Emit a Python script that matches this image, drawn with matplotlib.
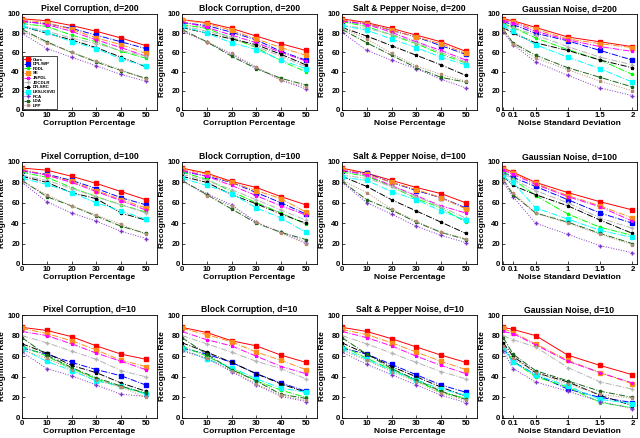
import numpy as np
from matplotlib import pyplot as plt

plt.rcParams['font.family'] = ['Liberation Sans', 'DejaVu Sans']
plt.rcParams['font.weight'] = 'bold'

methods = ['Ours', 'DPL/WP', 'FDDL', 'SE', 'JNPDL', 'JDCDLR', 'DR-SRC',
           'LRSI-KSVD', 'PCA', 'LDA', 'LPP']
colors = ['#ff0000', '#0000ff', '#00ff00', '#ff8c1a', '#ff00ff', '#b4b4b4',
          '#000000', '#00ffff', '#7f33cc', '#1a6619', '#b38c73']
markers = ['s', 's', '*', 's', '*', '+', '*', 's', '+', '*', '*']
styles = ['-', '-.', '-.', '-.', '-.', '-.', '-.', '-.', ':', '-.', ':']

pct_x = [0, 10, 20, 30, 40, 50]
# where the noise levels sit along the axis in the original figure
std_pos = [0, 0.15, 0.5, 1, 1.5, 2]
std_labels = ['0', '0.1', '0.5', '1', '1.5', '2']

# rows follow the order of `methods`
pixel_200 = [[95, 93, 88, 82, 75, 67], [92, 90, 85, 78, 71, 64], [90, 87, 78, 71, 61, 54],
             [94, 91, 84, 75, 68, 59], [93, 89, 82, 73, 65, 56], [88, 82, 75, 69, 62, 56],
             [87, 80, 73, 65, 55, 45], [87, 81, 71, 64, 53, 46], [80, 64, 55, 46, 37, 30],
             [84, 71, 60, 50, 41, 33], [82, 70, 60, 51, 42, 32]]
block_200 = [[94, 91, 85, 77, 69, 62], [91, 88, 81, 73, 61, 52], [89, 85, 75, 65, 51, 40],
             [94, 90, 83, 74, 65, 57], [92, 86, 78, 70, 60, 51], [88, 82, 76, 66, 56, 45],
             [86, 80, 74, 68, 58, 47], [87, 80, 70, 63, 52, 43], [82, 71, 58, 44, 31, 22],
             [84, 71, 56, 43, 33, 26], [83, 71, 59, 45, 31, 24]]
salt_200 = [[95, 91, 85, 78, 71, 61], [92, 90, 83, 76, 67, 58], [92, 87, 78, 69, 58, 49],
            [94, 90, 83, 76, 69, 59], [93, 89, 81, 71, 62, 52], [88, 85, 79, 70, 60, 50],
            [86, 77, 67, 57, 47, 36], [88, 83, 74, 65, 55, 47], [81, 62, 52, 43, 32, 23],
            [84, 70, 57, 44, 34, 29], [85, 74, 59, 46, 37, 30]]
gauss_200 = [[95, 93, 86, 76, 71, 66], [92, 89, 80, 72, 62, 52], [90, 86, 75, 63, 52, 37],
             [94, 92, 84, 74, 69, 65], [93, 91, 82, 73, 66, 61], [88, 86, 78, 66, 55, 47],
             [86, 80, 70, 62, 52, 44], [88, 82, 68, 55, 43, 29], [81, 68, 50, 36, 23, 15],
             [84, 70, 57, 44, 34, 24], [83, 69, 54, 42, 30, 20]]

pixel_100 = [[94, 92, 86, 79, 71, 63], [91, 88, 82, 74, 65, 58], [90, 85, 75, 66, 58, 51],
             [93, 87, 81, 72, 63, 55], [92, 87, 80, 71, 62, 53], [87, 82, 74, 66, 58, 50],
             [86, 80, 70, 64, 50, 43], [84, 78, 70, 60, 52, 44], [80, 61, 50, 42, 32, 25],
             [82, 66, 57, 47, 37, 30], [81, 68, 57, 48, 39, 29]]
block_100 = [[94, 89, 81, 75, 66, 58], [91, 86, 80, 70, 60, 49], [90, 83, 71, 60, 50, 39],
             [93, 88, 80, 72, 64, 51], [92, 86, 77, 67, 57, 48], [88, 82, 73, 63, 53, 43],
             [86, 80, 68, 59, 49, 40], [84, 77, 69, 55, 45, 31], [81, 69, 58, 41, 31, 21],
             [82, 68, 54, 40, 31, 24], [82, 67, 57, 41, 30, 20]]
salt_100 = [[94, 89, 82, 75, 69, 60], [91, 89, 80, 72, 65, 55], [90, 86, 76, 64, 55, 41],
            [93, 88, 80, 73, 65, 54], [92, 87, 77, 67, 57, 50], [87, 84, 76, 66, 56, 45],
            [86, 76, 63, 52, 41, 30], [85, 82, 71, 63, 52, 43], [80, 60, 49, 37, 28, 21],
            [81, 63, 53, 41, 31, 24], [82, 70, 54, 42, 31, 25]]
gauss_100 = [[94, 90, 80, 70, 61, 53], [90, 85, 76, 63, 50, 40], [91, 83, 67, 49, 36, 28],
             [93, 89, 79, 67, 57, 45], [92, 88, 78, 66, 56, 42], [88, 83, 72, 60, 45, 35],
             [86, 77, 68, 57, 43, 30], [85, 80, 55, 44, 33, 26], [80, 66, 40, 29, 18, 11],
             [83, 68, 50, 41, 30, 20], [82, 70, 50, 40, 29, 19]]

pixel_10 = [[88, 85, 79, 70, 62, 57], [68, 62, 54, 47, 41, 32], [70, 60, 48, 38, 30, 24],
            [87, 82, 75, 66, 56, 50], [84, 80, 72, 63, 55, 47], [80, 73, 65, 57, 46, 40],
            [72, 63, 51, 44, 34, 26], [67, 55, 46, 36, 31, 23], [64, 48, 41, 32, 23, 21],
            [78, 61, 49, 39, 31, 24], [66, 58, 47, 37, 30, 20]]
block_10 = [[88, 83, 75, 70, 61, 54], [68, 62, 54, 43, 34, 26], [70, 60, 48, 36, 27, 20],
            [87, 81, 74, 64, 56, 47], [84, 76, 70, 60, 50, 43], [80, 72, 64, 55, 48, 38],
            [73, 64, 54, 43, 33, 25], [67, 57, 49, 38, 29, 25], [65, 58, 45, 32, 21, 16],
            [78, 62, 47, 36, 23, 19], [66, 58, 46, 33, 22, 17]]
salt_10 = [[88, 84, 77, 69, 61, 54], [68, 62, 52, 42, 32, 25], [70, 58, 47, 36, 25, 19],
           [86, 81, 73, 64, 55, 47], [84, 78, 70, 60, 51, 43], [80, 72, 63, 54, 45, 38],
           [73, 62, 50, 40, 30, 21], [67, 57, 46, 37, 28, 22], [64, 52, 42, 32, 22, 15],
           [78, 62, 48, 37, 26, 18], [66, 56, 45, 35, 24, 17]]
gauss_10 = [[88, 86, 80, 61, 51, 42], [68, 55, 42, 28, 20, 15], [70, 55, 40, 30, 15, 10],
            [87, 83, 72, 56, 44, 33], [84, 82, 71, 55, 44, 34], [80, 76, 69, 49, 35, 28],
            [73, 60, 44, 35, 22, 12], [67, 54, 42, 31, 18, 14], [65, 48, 35, 26, 16, 9],
            [78, 62, 46, 36, 26, 20], [70, 58, 44, 33, 23, 19]]

panels = [
    [(pixel_200, 'Pixel Corruption, d=200', 'Corruption Percentage', False),
     (block_200, 'Block Corruption, d=200', 'Corruption Percentage', False),
     (salt_200, 'Salt & Pepper Noise, d=200', 'Noise Percentage', False),
     (gauss_200, 'Gaussian Noise, d=200', 'Noise Standard Deviation', True)],
    [(pixel_100, 'Pixel Corruption, d=100', 'Corruption Percentage', False),
     (block_100, 'Block Corruption, d=100', 'Corruption Percentage', False),
     (salt_100, 'Salt & Pepper Noise, d=100', 'Noise Percentage', False),
     (gauss_100, 'Gaussian Noise, d=100', 'Noise Standard Deviation', True)],
    [(pixel_10, 'Pixel Corruption, d=10', 'Corruption Percentage', False),
     (block_10, 'Block Corruption, d=10', 'Corruption Percentage', False),
     (salt_10, 'Salt & Pepper Noise, d=10', 'Noise Percentage', False),
     (gauss_10, 'Gaussian Noise, d=10', 'Noise Standard Deviation', True)],
]

W, H = 640, 438
lefts = [22, 182, 342, 502]
tops = [14, 162, 315]
heights = [96, 102, 103]
width = 135

fig = plt.figure(figsize=(6.4, 4.38), dpi=100)

for r, row in enumerate(panels):
    for c, (data, title, xlabel, is_std) in enumerate(row):
        ax = fig.add_axes([lefts[c] / W, (H - tops[r] - heights[r]) / H,
                           width / W, heights[r] / H])
        x = std_pos if is_std else pct_x
        for i, m in enumerate(methods):
            ax.plot(x, data[i], linestyle=styles[i], color=colors[i],
                    marker=markers[i], markersize=2.3, linewidth=0.7, label=m)
        ax.set_ylim(0, 100)
        ax.set_yticks([0, 20, 40, 60, 80, 100])
        if is_std:
            ax.set_xlim(-0.02, 2.07)
            ax.set_xticks(std_pos)
            ax.set_xticklabels(std_labels)
        else:
            ax.set_xlim(0, 54.5)
            ax.set_xticks(pct_x)
        ax.tick_params(direction='in', length=2, width=0.5, labelsize=5.6, pad=1.5)
        for s in ax.spines.values():
            s.set_linewidth(0.6)
        ax.set_title(title, fontsize=6.2, fontweight='bold', pad=2)
        ax.set_xlabel(xlabel, fontsize=6, fontweight='bold', labelpad=0.5)
        ax.set_ylabel('Recognition Rate', fontsize=6, fontweight='bold', labelpad=0.5)
        if r == 0 and c == 0:
            leg = ax.legend(loc='lower left', fontsize=3.2, handlelength=1.6,
                            handletextpad=0.3, labelspacing=0.12, borderpad=0.25,
                            borderaxespad=0.2, fancybox=False, edgecolor='black',
                            framealpha=1)
            leg.get_frame().set_linewidth(0.5)

fig.savefig('out.png', dpi=100)
